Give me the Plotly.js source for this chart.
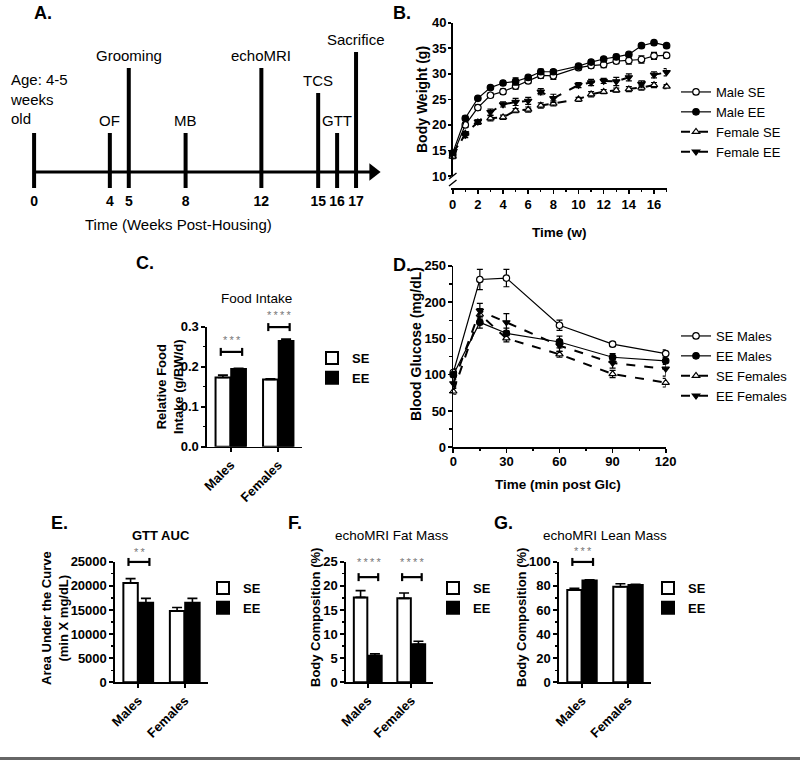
<!DOCTYPE html>
<html>
<head>
<meta charset="utf-8">
<script src="https://cdn.plot.ly/plotly-3.0.1.min.js"></script>
<style>
  html,body{margin:0;padding:0;background:#fff;}
  #fig{width:800px;height:760px;}
</style>
</head>
<body>
<div id="fig"></div>
<script>
// ────── data ──────
// A. timeline (weeks post-housing)
const eventWeeks=[0,4,5,8,12,15,16,17];
const eventNames=['Age: 4-5<br>weeks<br>old','OF','Grooming','MB','echoMRI','TCS','GTT','Sacrifice'];
const eventTier=[0,0,2,0,2,1,0,3];

// B. body weight (g)
const bwWeeks=[0,1,2,3,4,5,6,7,8,10,11,12,13,14,15,16,17];
const maleSE=[14.0,20.0,23.4,25.8,26.5,27.6,28.6,29.7,29.6,31.2,31.6,31.8,32.5,32.6,32.8,33.5,33.6];
const maleSEerr=[0.5,0.5,0.5,0.4,0.5,0.6,0.5,0.6,0.7,0.4,0.5,0.6,0.5,0.7,0.7,0.7,0.6];
const maleEE=[14.5,21.3,25.2,27.3,28.2,28.5,29.3,30.4,30.4,31.5,32.3,32.9,33.3,33.8,35.5,36.1,35.5];
const maleEEerr=[0.4,0.4,0.3,0.3,0.3,0.7,0.4,0.5,0.4,0.4,0.4,0.3,0.5,0.4,0.3,0.3,0.3];
const femSE=[13.8,18.3,20.5,21.3,21.5,22.8,23.0,23.8,24.2,25.0,26.0,26.5,26.8,27.0,27.3,27.8,27.5];
const femSEerr=[0.4,0.4,0.4,0.5,0.4,0.4,0.5,0.5,0.5,0.4,0.5,0.4,0.4,0.5,0.5,0.5,0.4];
const femEE=[14.5,18.0,20.6,22.5,24.0,24.5,24.7,26.5,25.2,27.8,28.3,28.6,28.5,29.3,28.0,29.8,30.3];
const femEEerr=[0.4,0.5,0.4,0.6,0.5,0.7,0.7,0.6,0.8,0.5,0.6,0.5,0.8,0.7,0.6,0.6,0.7];

// D. glucose tolerance (mg/dL)
const gttTime=[0,15,30,60,90,120];
const seMales=[103,231,233,168,142,129];
const seMalesErr=[5,14,12,7,3,5];
const eeMales=[100,172,157,145,124,119];
const eeMalesErr=[4,8,7,8,5,5];
const seFemales=[77,183,150,128,101,89];
const seFemalesErr=[4,8,5,4,5,6];
const eeFemales=[88,188,172,140,116,108];
const eeFemalesErr=[5,10,12,8,7,10];

// C/E/F/G bar panels
const groups=['Males','Females'];
const foodSE=[0.173,0.168], foodSEerr=[0.006,0.002];
const foodEE=[0.194,0.264], foodEEerr=[0.002,0.005];
const aucSE=[20600,14800], aucSEerr=[900,700];
const aucEE=[16500,16500], aucEEerr=[900,900];
const fatSE=[17.6,17.4], fatSEerr=[1.4,1.1];
const fatEE=[5.5,7.9], fatEEerr=[0.4,0.6];
const leanSE=[76.5,79.2], leanSEerr=[1.5,2.5];
const leanEE=[84.5,80.6], leanEEerr=[0.5,0.6];
const foodSig=['***','****'], aucSig=['**',''], fatSig=['****','****'], leanSig=['***',''];

// ────── helpers ──────
const W=800,H=760;
const F='"Liberation Sans", Arial, sans-serif';
const hx=(a,b)=>[a/W,b/W];
const vy=(top,bot)=>[1-bot/H,1-top/H];
const px=x=>x/W, py=y=>1-y/H;
const tierTop=[39,79,104,120];
const minorT=(d)=>({ticks:'outside',ticklen:2.5,dtick:d,tickcolor:'#000',tickwidth:1.3});

function ax(extra){
  return Object.assign({
    showline:true,linecolor:'#000',linewidth:1.6,
    ticks:'outside',ticklen:4,tickwidth:1.6,tickcolor:'#000',
    showgrid:false,zeroline:false,fixedrange:true,
    tickfont:{family:F,size:13,color:'#000',weight:'bold'}
  },extra);
}
function catAx(dom,anchor){
  return ax({domain:dom,anchor,type:'category',categoryarray:groups,range:[-0.5,1.5],tickangle:-45});
}

const traces=[];
// A. timeline
traces.push({x:[0,17.9],y:[0,0],xaxis:'x',yaxis:'y',mode:'lines',line:{color:'#000',width:3},showlegend:false,hoverinfo:'skip'});
traces.push({x:[17.9],y:[0],xaxis:'x',yaxis:'y',mode:'markers',marker:{symbol:'triangle-right',size:15,color:'#000'},cliponaxis:false,showlegend:false,hoverinfo:'skip'});
traces.push({
  x:eventWeeks.flatMap(w=>[w,w,null]),
  y:eventTier.flatMap(t=>[-16,tierTop[t],null]),
  xaxis:'x',yaxis:'y',mode:'lines',line:{color:'#000',width:4},showlegend:false,hoverinfo:'skip'
});

// line-series helper (B, D); open symbols drawn as white-filled
function lineTrace(name,x,y,err,sym,open,dash,lw,xa,ya,leg){
  return {
    name,x,y,xaxis:xa,yaxis:ya,legend:leg,mode:'lines+markers',cliponaxis:false,
    line:{color:'#000',width:lw,dash},
    marker:{symbol:sym,size:6.5,color:open?'#fff':'#000',line:{color:'#000',width:1.2}},
    error_y:{type:'data',array:err,color:'#000',thickness:1.2,width:3}
  };
}
traces.push(lineTrace('Male SE',bwWeeks,maleSE,maleSEerr,'circle',true,'solid',1.2,'x2','y2','legend'));
traces.push(lineTrace('Male EE',bwWeeks,maleEE,maleEEerr,'circle',false,'solid',1.2,'x2','y2','legend'));
traces.push(lineTrace('Female SE',bwWeeks,femSE,femSEerr,'triangle-up',true,'dash',2,'x2','y2','legend'));
traces.push(lineTrace('Female EE',bwWeeks,femEE,femEEerr,'triangle-down',false,'dash',2,'x2','y2','legend'));

traces.push(lineTrace('SE Males',gttTime,seMales,seMalesErr,'circle',true,'solid',1.2,'x4','y5','legend3'));
traces.push(lineTrace('EE Males',gttTime,eeMales,eeMalesErr,'circle',false,'solid',1.2,'x4','y5','legend3'));
traces.push(lineTrace('SE Females',gttTime,seFemales,seFemalesErr,'triangle-up',true,'dash',2,'x4','y5','legend3'));
traces.push(lineTrace('EE Females',gttTime,eeFemales,eeFemalesErr,'triangle-down',false,'dash',2,'x4','y5','legend3'));

// bar helper
function barPair(se,seErr,ee,eeErr,xa,ya,leg){
  const mk=(name,v,e,fill)=>({
    type:'bar',name,x:groups,y:v,xaxis:xa,yaxis:ya,legend:leg,
    marker:{color:fill,line:{color:'#000',width:2}},
    error_y:{type:'data',symmetric:false,array:e,arrayminus:e.map(()=>0),color:'#000',thickness:1.6,width:5}
  });
  return [mk('SE',se,seErr,'#fff'),mk('EE',ee,eeErr,'#000')];
}
traces.push(...barPair(foodSE,foodSEerr,foodEE,foodEEerr,'x3','y4','legend2'));
traces.push(...barPair(aucSE,aucSEerr,aucEE,aucEEerr,'x5','y6','legend4'));
traces.push(...barPair(fatSE,fatSEerr,fatEE,fatEEerr,'x6','y7','legend5'));
traces.push(...barPair(leanSE,leanSEerr,leanEE,leanEEerr,'x7','y8','legend6'));

// ────── layout ──────
const legBase={bgcolor:'rgba(0,0,0,0)',xanchor:'left',yanchor:'top',itemwidth:30,tracegroupgap:0,
  font:{family:F,size:13,color:'#000'}};
const legBar=Object.assign({},legBase,{font:{family:F,size:13,color:'#000',weight:'bold'}});

const layout={
  width:W,height:H,autosize:false,margin:{l:0,r:0,t:0,b:0},
  paper_bgcolor:'#fff',plot_bgcolor:'rgba(0,0,0,0)',
  font:{family:F,color:'#000'},
  barmode:'group',bargap:0.34,bargroupgap:0.06,
  // A
  xaxis:{domain:hx(0,403.4),range:[-1.8,19.5],anchor:'y',showline:false,zeroline:false,showgrid:false,
    ticks:'',tickvals:eventWeeks,ticktext:eventWeeks.map(String),fixedrange:true,ticklabelstandoff:3,
    tickfont:{family:F,size:14,color:'#000',weight:'bold'}},
  yaxis:{domain:vy(22,188),range:[-16,150],anchor:'x',visible:false,fixedrange:true},
  // B
  xaxis2:ax({domain:hx(452.7,666.6),range:[0,17],anchor:'y3',dtick:2,tick0:0,minor:minorT(1)}),
  yaxis2:ax({domain:vy(22.7,176),range:[10,40],anchor:'x2',dtick:5,tick0:10,ticklen:3,ticklabelstandoff:-1}),
  yaxis3:ax({domain:vy(183,202.3),range:[0,3.78],anchor:'x2',tickvals:[0],ticklen:3,ticklabelstandoff:-1}),
  // C
  xaxis3:catAx(hx(207,302),'y4'),
  yaxis4:ax({domain:vy(326.7,446.7),range:[0,0.3],anchor:'x3',dtick:0.1,tickformat:'.1f',minor:minorT(0.05)}),
  // D
  xaxis4:ax({domain:hx(453.3,665.7),range:[0,120],anchor:'y5',dtick:30,tick0:0,minor:minorT(15),ticklabelstandoff:-3}),
  yaxis5:ax({domain:vy(265.7,447.3),range:[0,250],anchor:'x4',dtick:50,minor:minorT(25),ticklabelstandoff:-1}),
  // E
  xaxis5:catAx(hx(115,208),'y6'),
  yaxis6:ax({domain:vy(561.7,682.3),range:[0,25000],anchor:'x5',dtick:5000,tickformat:'d',minor:minorT(2500)}),
  // F
  xaxis6:catAx(hx(346,433),'y7'),
  yaxis7:ax({domain:vy(561.7,682.3),range:[0,25],anchor:'x6',dtick:5,minor:minorT(2.5)}),
  // G
  xaxis7:catAx(hx(559,651),'y8'),
  yaxis8:ax({domain:vy(561.7,682.3),range:[0,100],anchor:'x7',dtick:20,minor:minorT(10)}),

  legend:Object.assign({},legBase,{x:px(676),y:py(77)}),
  legend2:Object.assign({},legBar,{x:px(312),y:py(343)}),
  legend3:Object.assign({},legBase,{x:px(676),y:py(321)}),
  legend4:Object.assign({},legBar,{x:px(203),y:py(573)}),
  legend5:Object.assign({},legBar,{x:px(433),y:py(573)}),
  legend6:Object.assign({},legBar,{x:px(648),y:py(573)}),
  shapes:[],annotations:[]
};

// timeline labels
eventWeeks.forEach((w,i)=>{
  const first=i===0;
  layout.annotations.push({
    xref:'x',yref:'y',x:w,y:tierTop[eventTier[i]],text:eventNames[i],showarrow:false,
    xanchor:first?'left':'center',yanchor:'bottom',xshift:first?-26:0,yshift:first?4:2,align:'left',
    font:{family:F,size:15,color:'#000'}
  });
});

function ann(x,y,text,opt){
  layout.annotations.push(Object.assign({xref:'paper',yref:'paper',x:px(x),y:py(y),text,showarrow:false,
    xanchor:'center',yanchor:'middle',font:{family:F,size:13,color:'#000'}},opt||{}));
}
const bold=(s)=>({family:F,size:s,color:'#000',weight:'bold'});
// panel letters
ann(32,13,'A.',{xanchor:'left',font:bold(18)});
ann(391,13,'B.',{xanchor:'left',font:bold(18)});
ann(134,263,'C.',{xanchor:'left',font:bold(18)});
ann(391,265,'D.',{xanchor:'left',font:bold(18)});
ann(49,523,'E.',{xanchor:'left',font:bold(18)});
ann(286,523,'F.',{xanchor:'left',font:bold(18)});
ann(492,523,'G.',{xanchor:'left',font:bold(18)});
// axis titles
ann(178,225,'Time (Weeks Post-Housing)',{font:{family:F,size:15,color:'#000'}});
ann(559,232,'Time (w)',{font:bold(13.5)});
ann(422,100,'Body Weight (g)',{textangle:-90,font:bold(14)});
ann(558,484,'Time (min post Glc)',{font:bold(13.5)});
ann(416,344,'Blood Glucose (mg/dL)',{textangle:-90,font:bold(14)});
ann(170,387,'Relative Food<br>Intake (g/BW/d)',{textangle:-90,font:bold(13)});
ann(55,618,'Area Under the Curve<br>(min X mg/dL)',{textangle:-90,font:bold(13)});
ann(315,618,'Body Composition (%)',{textangle:-90,font:bold(13)});
ann(521,618,'Body Composition (%)',{textangle:-90,font:bold(13)});
// panel titles
ann(256,298,'Food Intake',{font:{family:F,size:13.5,color:'#000'}});
ann(161,535,'GTT AUC',{font:bold(13)});
ann(392,535,'echoMRI Fat Mass',{font:{family:F,size:13.5,color:'#000'}});
ann(605,535,'echoMRI Lean Mass',{font:{family:F,size:13.5,color:'#000'}});

// significance brackets, drawn on the category axis, y in the axis' data units
function yToPaper(axName,v){
  const a=layout[axName];
  return a.domain[0]+(v-a.range[0])/(a.range[1]-a.range[0])*(a.domain[1]-a.domain[0]);
}
function sig(xa,yaName,sigs,levels,starGap){
  sigs.forEach((s,i)=>{
    if(!s) return;
    const yb=yToPaper(yaName,levels[i]);
    const cap=4/H;
    const line={type:'line',xref:xa,yref:'paper',line:{color:'#000',width:2.2}};
    layout.shapes.push(Object.assign({x0:i-0.21,x1:i+0.24,y0:yb,y1:yb},line));
    layout.shapes.push(Object.assign({x0:i-0.21,x1:i-0.21,y0:yb-cap,y1:yb+cap},line));
    layout.shapes.push(Object.assign({x0:i+0.24,x1:i+0.24,y0:yb-cap,y1:yb+cap},line));
    layout.annotations.push({xref:xa,yref:'paper',x:i+0.02,y:yb+starGap/H,text:s.split('').join('\u2009'),showarrow:false,
      xanchor:'center',yanchor:'middle',font:{family:F,size:11,color:'#777'}});
  });
}
sig('x3','yaxis4',foodSig,[0.237,0.299],12);
sig('x5','yaxis6',aucSig,[24950,0],10);
sig('x6','yaxis7',fatSig,[21.8,21.8],15);
sig('x7','yaxis8',leanSig,[99.8,0],11);

// B axis break marks + bottom rule
[176,183].forEach(y=>{
  layout.shapes.push({type:'line',xref:'paper',yref:'paper',x0:px(449),x1:px(456.5),y0:py(y+3),y1:py(y-3),line:{color:'#000',width:1.4}});
});
layout.shapes.push({type:'line',xref:'paper',yref:'paper',x0:0,x1:1,y0:py(758.5),y1:py(758.5),line:{color:'#666',width:3}});

Plotly.newPlot('fig',traces,layout,{displayModeBar:false,staticPlot:true});
</script>
</body>
</html>
